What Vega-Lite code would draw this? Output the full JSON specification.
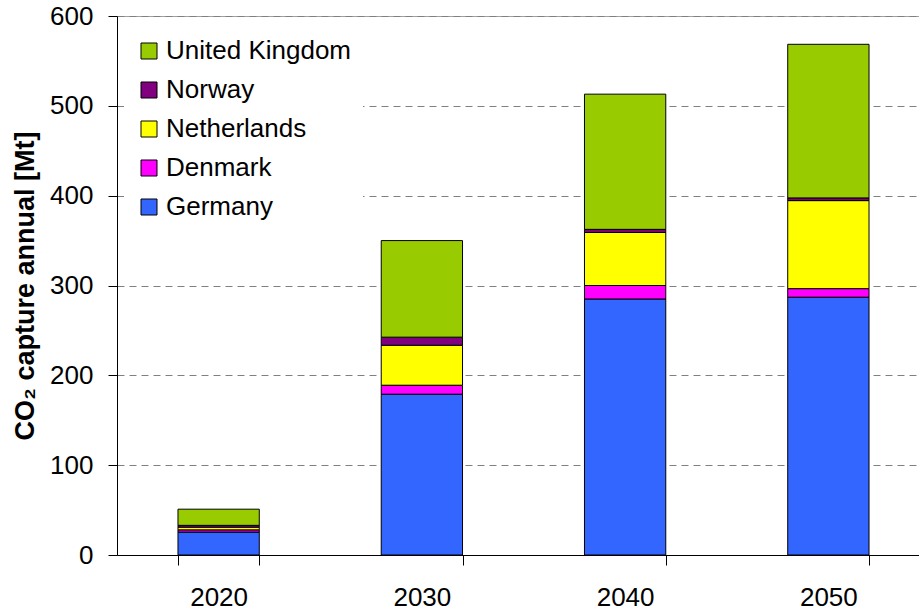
{
  "$schema": "https://vega.github.io/schema/vega-lite/v6.json",
  "autosize": "none",
  "padding": {"left": 117, "top": 16, "right": 0, "bottom": 56},
  "width": 813,
  "height": 539,
  "background": "white",
  "config": {
    "font": "Liberation Sans",
    "view": {"stroke": "#a0a0a0", "strokeWidth": 1}
  },
  "data": {
    "values": [
      {"year": "2020", "country": "Germany", "value": 25.5},
      {"year": "2020", "country": "Denmark", "value": 2.5},
      {"year": "2020", "country": "Netherlands", "value": 3},
      {"year": "2020", "country": "Norway", "value": 2},
      {"year": "2020", "country": "United Kingdom", "value": 18},
      {"year": "2030", "country": "Germany", "value": 179},
      {"year": "2030", "country": "Denmark", "value": 10},
      {"year": "2030", "country": "Netherlands", "value": 44.5},
      {"year": "2030", "country": "Norway", "value": 9},
      {"year": "2030", "country": "United Kingdom", "value": 107.5},
      {"year": "2040", "country": "Germany", "value": 285},
      {"year": "2040", "country": "Denmark", "value": 15},
      {"year": "2040", "country": "Netherlands", "value": 59},
      {"year": "2040", "country": "Norway", "value": 3.5},
      {"year": "2040", "country": "United Kingdom", "value": 150.5},
      {"year": "2050", "country": "Germany", "value": 287},
      {"year": "2050", "country": "Denmark", "value": 9.5},
      {"year": "2050", "country": "Netherlands", "value": 98},
      {"year": "2050", "country": "Norway", "value": 3},
      {"year": "2050", "country": "United Kingdom", "value": 171}
    ]
  },
  "transform": [
    {"calculate": "indexof(['Germany','Denmark','Netherlands','Norway','United Kingdom'], datum.country)", "as": "stackOrder"}
  ],
  "mark": {"type": "bar", "stroke": "black", "strokeWidth": 1},
  "encoding": {
    "x": {
      "field": "year",
      "type": "nominal",
      "scale": {"paddingInner": 0.6, "paddingOuter": 0.3},
      "axis": {
        "title": null,
        "labelAngle": 0,
        "labelFontSize": 26,
        "labelColor": "black",
        "labelPadding": 19,
        "tickBand": "extent",
        "tickSize": 10,
        "tickColor": "black",
        "domainColor": "black",
        "grid": false
      }
    },
    "y": {
      "field": "value",
      "type": "quantitative",
      "aggregate": "sum",
      "stack": "zero",
      "scale": {"domain": [0, 600], "nice": false},
      "axis": {
        "title": "CO₂ capture annual [Mt]",
        "titleFontSize": 27,
        "titleFontWeight": "bold",
        "titleColor": "black",
        "titlePadding": 10,
        "values": [0, 100, 200, 300, 400, 500, 600],
        "labelFontSize": 26,
        "labelColor": "black",
        "labelPadding": 15,
        "tickSize": 9,
        "tickColor": "black",
        "domainColor": "black",
        "grid": true,
        "gridColor": "#808080",
        "gridDash": [7, 5],
        "gridWidth": 1
      }
    },
    "color": {
      "field": "country",
      "type": "nominal",
      "scale": {
        "domain": ["United Kingdom", "Norway", "Netherlands", "Denmark", "Germany"],
        "range": ["#99CC00", "#800080", "#FFFF00", "#FF00FF", "#3366FF"]
      },
      "legend": {
        "title": null,
        "orient": "none",
        "legendX": 7,
        "legendY": 10,
        "padding": 12,
        "fillColor": "white",
        "symbolType": "square",
        "symbolSize": 256,
        "symbolStrokeColor": "black",
        "symbolStrokeWidth": 1,
        "symbolOpacity": 1,
        "labelFontSize": 26,
        "labelColor": "black",
        "labelLimit": 400,
        "labelOffset": 4,
        "rowPadding": 13
      }
    },
    "order": {"field": "stackOrder", "type": "quantitative", "sort": "ascending"}
  }
}
